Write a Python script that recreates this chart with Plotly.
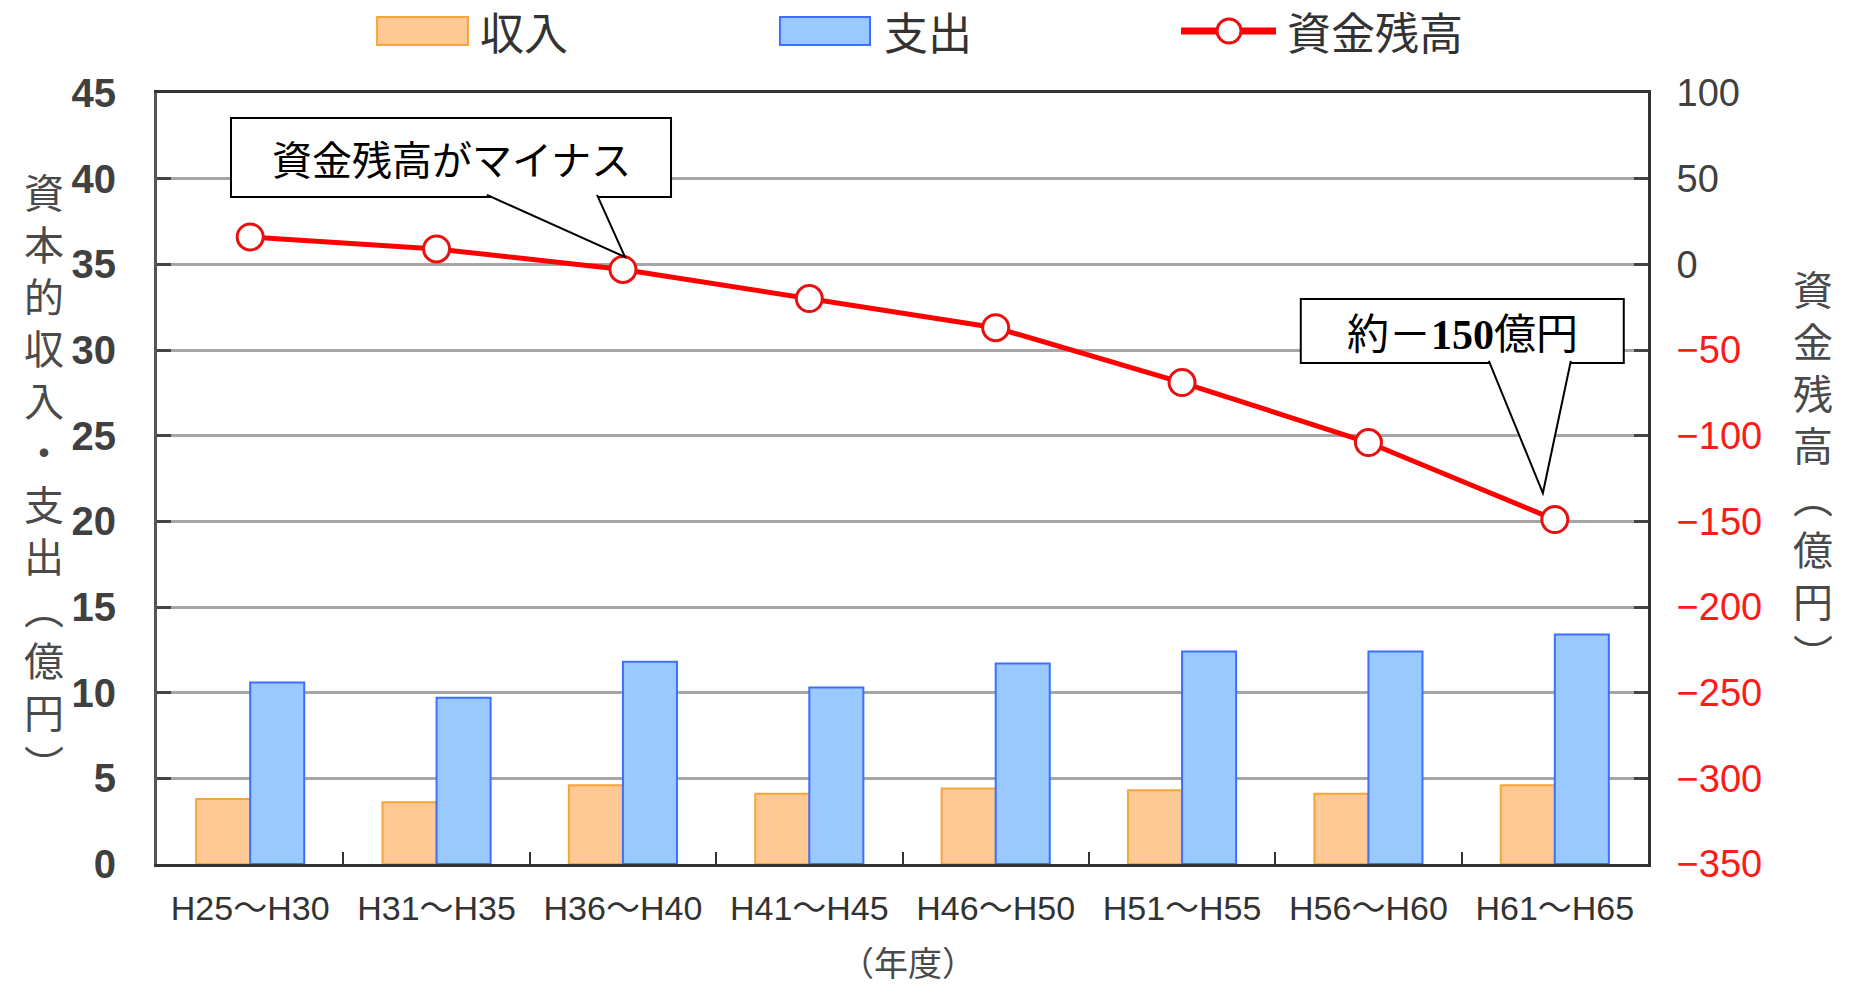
import plotly.graph_objects as go

periods = ["H25～H30", "H31～H35", "H36～H40", "H41～H45",
           "H46～H50", "H51～H55", "H56～H60", "H61～H65"]
income = [3.8, 3.6, 4.6, 4.1, 4.4, 4.3, 4.1, 4.6]
expense = [10.6, 9.7, 11.8, 10.3, 11.7, 12.4, 12.4, 13.4]
balance = [16, 9, -3, -20, -37, -69, -104, -149]

left_ticks = list(range(0, 50, 5))
right_ticks = list(range(-350, 150, 50))

JP = "Noto Sans CJK JP"
NUM = "Liberation Sans, Noto Sans CJK JP"
GRAY = "#3a3a3a"
RED = "#ff1a1a"

fig = go.Figure()

fig.add_trace(go.Bar(
    x=periods, y=income, name="収入",
    marker=dict(color="#ffc995", line=dict(color="#f4a53c", width=2)),
))
fig.add_trace(go.Bar(
    x=periods, y=expense, name="支出",
    marker=dict(color="#99c9ff", line=dict(color="#3f6fff", width=2)),
))
fig.add_trace(go.Scatter(
    x=periods, y=balance, name="資金残高", yaxis="y2",
    mode="lines+markers",
    line=dict(color="#ff0000", width=5),
    marker=dict(size=26, color="white", line=dict(color="#e81010", width=3)),
))

# right tick labels: negatives in red
right_text = []
for v in right_ticks:
    if v < 0:
        right_text.append(f"<span style='color:{RED}'>−{abs(v)}</span>")
    else:
        right_text.append(str(v))

fig.update_layout(
    width=1849, height=985,
    margin=dict(l=157, r=201, t=93, b=121),
    plot_bgcolor="white", paper_bgcolor="white",
    showlegend=False,
    barmode="group", bargap=0.42, bargroupgap=0,
    font=dict(family=JP, color=GRAY),
    xaxis=dict(
        showline=True, linecolor="#333", linewidth=3, mirror=True,
        ticks="inside", tickson="boundaries", ticklen=12, tickwidth=2, tickcolor="#333",
        tickfont=dict(family=NUM, size=34, color="#333"),
        ticklabelstandoff=12,
    ),
    yaxis=dict(
        range=[0, 45], tickvals=left_ticks,
        showline=True, linecolor="#555", linewidth=3, mirror=True,
        showgrid=True, gridcolor="#a6a6a6", gridwidth=3,
        ticks="inside", ticklen=14, tickwidth=3, tickcolor="#444",
        tickfont=dict(family=NUM, size=40, color="#404040", weight="bold"),
        ticklabelstandoff=30, zeroline=False,
    ),
    yaxis2=dict(
        range=[-350, 100], tickvals=right_ticks, ticktext=right_text,
        overlaying="y", side="right", showgrid=False, zeroline=False,
        showline=True, linecolor="#333", linewidth=3,
        ticks="inside", ticklen=14, tickwidth=3, tickcolor="#444",
        tickfont=dict(family=NUM, size=38, color="#404040"),
        ticklabelstandoff=18,
    ),
)

# axis titles (stacked vertical text)
fig.add_annotation(
    xref="paper", yref="paper", x=-0.0758, y=0.502, showarrow=False,
    xanchor="center", yanchor="middle",
    text="<br>".join("資本的収入・支出︵億円︶"),
    font=dict(family=JP, size=40, color="#4a4a4a"),
)
fig.add_annotation(
    xref="paper", yref="paper", x=1.1107, y=0.511, showarrow=False,
    xanchor="center", yanchor="middle",
    text="<br>".join("資金残高︵億円︶"),
    font=dict(family=JP, size=40, color="#4a4a4a"),
)
fig.add_annotation(
    xref="paper", yref="paper", x=0.504, y=-0.126, showarrow=False,
    xanchor="center", yanchor="middle",
    text="（年度）", font=dict(family=JP, size=34, color="#4a4a4a"),
)

# legend drawn at top
legend_y = (1.0623, 1.0986)
fig.add_shape(type="rect", xref="paper", yref="paper",
              x0=0.1476, x1=0.2086, y0=legend_y[0], y1=legend_y[1],
              fillcolor="#ffc995", line=dict(color="#f4a53c", width=2))
fig.add_shape(type="rect", xref="paper", yref="paper",
              x0=0.4178, x1=0.4782, y0=legend_y[0], y1=legend_y[1],
              fillcolor="#99c9ff", line=dict(color="#3f6fff", width=2))
fig.add_shape(type="line", xref="paper", yref="paper",
              x0=0.6868, x1=0.7505, y0=1.0804, y1=1.0804,
              line=dict(color="#ff0000", width=7))
fig.add_shape(type="circle", xref="paper", yref="paper",
              xsizemode="pixel", ysizemode="pixel", xanchor=0.7190, yanchor=1.0804,
              x0=-12, x1=12, y0=-12, y1=12,
              fillcolor="white", line=dict(color="#e81010", width=3))
for xp, label in [(0.2153, "収入"), (0.4863, "支出"), (0.7565, "資金残高")]:
    fig.add_annotation(xref="paper", yref="paper", x=xp, y=1.0804,
                       xanchor="left", yanchor="middle", showarrow=False,
                       text=label, font=dict(family=JP, size=44, color="#333"))

# callouts (x in category index, y on the right axis)
def callout(x0, x1, y0, y1, bx0, bx1, tip, text, size):
    fig.add_shape(type="rect", xref="x", yref="y2", x0=x0, x1=x1, y0=y0, y1=y1,
                  fillcolor="white", line=dict(color="black", width=2))
    fig.add_shape(type="path", xref="x", yref="y2",
                  path=f"M{bx0},{y0 + 1.2} L{tip[0]},{tip[1]} L{bx1},{y0 + 1.2}",
                  fillcolor="white", line=dict(color="black", width=2))
    fig.add_annotation(xref="x", yref="y2", x=(x0 + x1) / 2, y=(y0 + y1) / 2,
                       showarrow=False, text=text,
                       font=dict(family=JP, size=size, color="black"))

callout(-0.103, 2.258, 39.3, 85.4, 1.270, 1.861, (2.011, 4.3), "資金残高がマイナス", 40)
callout(5.637, 7.370, -57.6, -20.2, 6.646, 7.086, (6.936, -133.5),
        "約－<span style='font-family:Liberation Serif;font-weight:bold'>150</span>億円", 42)

fig.write_html("out.html", config={"displayModeBar": False},
               post_script="document.body.style.margin='0';")
